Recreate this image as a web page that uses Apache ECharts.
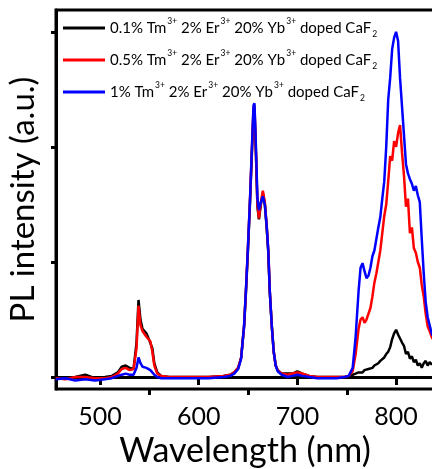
<!DOCTYPE html>
<html>
<head>
<meta charset="utf-8">
<script src="https://cdn.jsdelivr.net/npm/echarts@6/dist/echarts.min.js"></script>
<style>html,body{margin:0;padding:0;background:#fff}#c{width:432px;height:469px}</style>
</head>
<body>
<div id="c"></div>
<script>
const wavelength = [455,465,475,485,495,505,512,518,522,526,530,534,537,539,541,543,545,547,549,551,553,555,558,562,570,590,610,625,632,636,640,643,646,648,650,652,654,655.5,656.5,658,659.5,661,663,665,667,669,670.5,672,674,676,678,680,684,690,695,700,705,712,720,730,740,748,752,756,759,762,764,766,768,770,772,774,776,778,780,782,784,786,788,790,792,794,796,798,800,802,804,806,808,810,812,814,816,818,820,822,824,826,828,830,832,834,836,837];

const tm01 = [0.0,-0.01,0.0,0.02,-0.01,0.0,0.01,0.04,0.09,0.1,0.08,0.07,0.3,0.67,0.5,0.42,0.43,0.38,0.34,0.33,0.25,0.12,0.04,0.01,0.0,0.0,0.0,0.01,0.02,0.04,0.08,0.17,0.44,0.76,1.12,1.52,1.97,2.3,2.33,1.93,1.48,1.37,1.5,1.6,1.5,1.28,1.08,0.74,0.45,0.22,0.1,0.06,0.03,0.03,0.03,0.05,0.03,0.01,0.0,0.0,0.0,0.0,0.01,0.02,0.03,0.04,0.05,0.04,0.06,0.05,0.07,0.06,0.08,0.1,0.09,0.12,0.14,0.13,0.17,0.2,0.22,0.26,0.33,0.38,0.41,0.37,0.38,0.3,0.27,0.2,0.22,0.16,0.18,0.13,0.15,0.1,0.12,0.08,0.12,0.14,0.1,0.13,0.11,0.12];

const tm05 = [-0.01,-0.02,0.0,0.0,-0.01,-0.01,0.0,0.03,0.07,0.08,0.06,0.07,0.25,0.62,0.45,0.4,0.41,0.35,0.34,0.31,0.22,0.1,0.03,0.01,0.0,0.0,0.0,0.01,0.02,0.04,0.08,0.17,0.45,0.78,1.15,1.55,2.0,2.33,2.36,1.95,1.5,1.38,1.52,1.62,1.52,1.3,1.1,0.75,0.45,0.22,0.1,0.06,0.03,0.02,0.03,0.04,0.03,0.01,0.0,0.0,0.0,0.0,0.01,0.05,0.2,0.42,0.5,0.52,0.47,0.5,0.55,0.6,0.7,0.82,0.9,1.0,1.1,1.25,1.4,1.5,1.7,1.92,1.88,2.05,2.0,2.12,2.19,1.95,1.75,1.48,1.55,1.25,1.3,1.12,1.08,1.0,0.95,0.8,0.7,0.55,0.44,0.4,0.35,0.33];

const tm1 = [-0.02,-0.01,-0.03,-0.02,-0.03,-0.02,-0.01,0.01,0.02,0.03,0.02,0.02,0.08,0.17,0.12,0.09,0.1,0.08,0.07,0.06,0.04,0.02,0.0,-0.01,-0.01,-0.01,-0.01,0.0,0.01,0.03,0.07,0.16,0.45,0.78,1.15,1.55,2.02,2.36,2.38,2.0,1.55,1.45,1.52,1.57,1.5,1.3,1.1,0.75,0.45,0.22,0.1,0.05,0.02,0.0,0.01,0.02,0.01,0.0,-0.01,-0.01,-0.01,0.0,0.01,0.08,0.35,0.75,0.95,0.99,0.92,0.86,0.88,0.95,1.05,1.1,1.2,1.3,1.39,1.55,1.7,2.0,2.41,2.6,2.85,2.95,3.0,2.92,2.6,2.35,2.1,1.85,1.77,1.72,1.68,1.62,1.66,1.58,1.52,1.2,0.9,0.65,0.52,0.45,0.38,0.36];

const seriesNames = ['0.1% Tm','0.5% Tm','1% Tm'];
const seriesColors = ['#000000','#ff0000','#0000ff'];
const seriesValues = [tm01, tm05, tm1];
const xMajorTicks = [500,600,700,800];
const xMinorTicks = [550,650,750];
const yTicks = [0,1,2,3];

const FONT = 'Lato';
const chart = echarts.init(document.getElementById('c'), null, {renderer:'canvas'});

const series = seriesValues.map((vals, i) => ({
  name: seriesNames[i],
  type: 'line',
  showSymbol: false,
  symbol: 'none',
  data: wavelength.map((w, j) => [w, vals[j]]),
  lineStyle: {color: seriesColors[i], width: 2.5},
  itemStyle: {color: seriesColors[i]},
  z: 2 + i,
  animation: false
}));

const legendTops = [17, 49, 81];
const legends = seriesNames.map((n, i) => ({
  data: [n],
  left: 63,
  top: legendTops[i],
  padding: 0,
  icon: 'rect',
  itemWidth: 42,
  itemHeight: 3,
  itemGap: 3,
  selectedMode: false,
  formatter: name => '{m|' + name + '}{sup|3+}{m| 2% Er}{sup|3+}{m| 20% Yb}{sup|3+}{m| doped CaF}{sub|2}',
  textStyle: {
    fontFamily: FONT,
    color: '#000',
    rich: {
      m: {fontFamily: FONT, fontSize: 15, color: '#000', lineHeight: 22, verticalAlign: 'middle'},
      sup: {fontFamily: FONT, fontSize: 8.5, color: '#000', lineHeight: 22, verticalAlign: 'top', padding:[0,0,0,1]},
      sub: {fontFamily: FONT, fontSize: 8.5, color: '#000', lineHeight: 22, verticalAlign: 'bottom', padding:[0,0,0,1]}
    }
  }
}));

chart.setOption({
  animation: false,
  backgroundColor: '#fff',
  grid: {left: 56, top: 10, right: -2, bottom: 80, show: true, borderColor: '#000', borderWidth: 3, backgroundColor: 'transparent', containLabel: false, outerBoundsMode: 'none'},
  legend: legends,
  xAxis: [{
    type: 'value',
    min: 455.4,
    max: 838.4,
    name: 'Wavelength (nm)',
    nameLocation: 'middle',
    nameGap: 39,
    nameTextStyle: {fontFamily: FONT, fontSize: 34, color: '#000'},
    axisLine: {show: true, lineStyle: {color: '#000', width: 3}},
    axisTick: {show: true, customValues: xMajorTicks, length: 8, lineStyle: {color: '#000', width: 3}},
    axisLabel: {show: true, customValues: xMajorTicks, fontFamily: FONT, fontSize: 25, color: '#000', margin: 15},
    splitLine: {show: false}
  },{
    type: 'value',
    position: 'bottom',
    min: 455.4,
    max: 838.4,
    axisLine: {show: false},
    axisTick: {show: true, customValues: xMinorTicks, length: 6, lineStyle: {color: '#000', width: 3}},
    axisLabel: {show: false},
    splitLine: {show: false}
  }],
  yAxis: {
    type: 'value',
    min: -0.104,
    max: 3.19,
    name: 'PL intensity (a.u.)',
    nameLocation: 'middle',
    nameGap: 16,
    nameRotate: 90,
    nameTextStyle: {fontFamily: FONT, fontSize: 33, color: '#000'},
    axisLine: {show: true, lineStyle: {color: '#000', width: 3}},
    axisTick: {show: true, customValues: yTicks, length: 5, lineStyle: {color: '#000', width: 3}},
    axisLabel: {show: false},
    splitLine: {show: false}
  },
  series: series
});
</script>
</body>
</html>
